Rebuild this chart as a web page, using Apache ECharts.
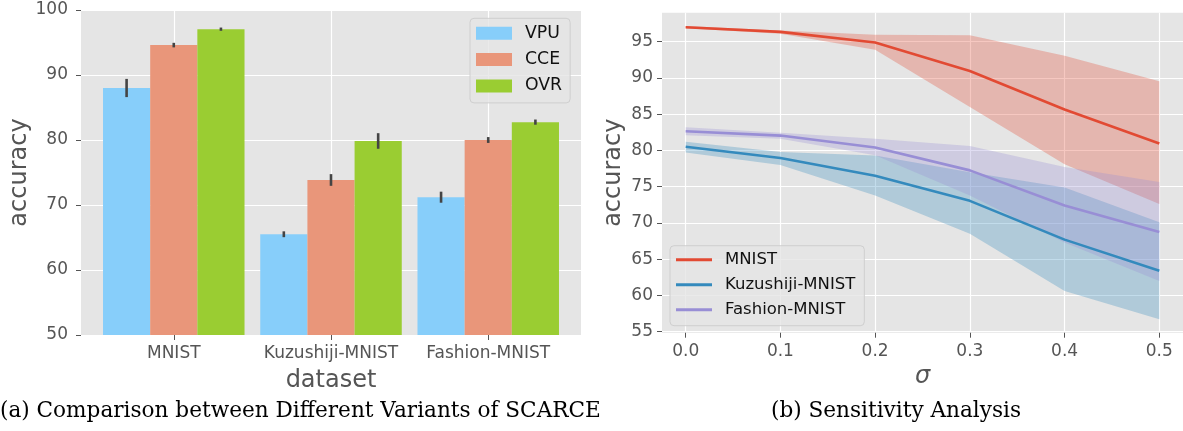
<!DOCTYPE html>
<html>
<head>
<meta charset="utf-8">
<script src="https://cdn.jsdelivr.net/npm/echarts@6/dist/echarts.min.js"></script>
<style>
  html, body { margin: 0; padding: 0; background: #fff; }
  #chart { width: 1183px; height: 431px; }
</style>
</head>
<body>
<div id="chart"></div>
<script>
// (a) variants of SCARCE, mean accuracy and error bar half-length
const datasets = ['MNIST', 'Kuzushiji-MNIST', 'Fashion-MNIST'];
const vpuMean = [88.0, 65.5, 71.2];
const vpuErr = [1.4, 0.45, 0.85];
const cceMean = [94.6, 73.85, 80.0];
const cceErr = [0.35, 0.9, 0.45];
const ovrMean = [97.05, 79.85, 82.75];
const ovrErr = [0.25, 1.2, 0.4];

// (b) sensitivity analysis
const sigma = [0.0, 0.1, 0.2, 0.3, 0.4, 0.5];
const mnistAcc = [97.0, 96.35, 94.9, 90.95, 85.65, 80.95];
const mnistLow = [96.85, 96.1, 93.9, 86.0, 78.1, 72.6];
const mnistHigh = [97.15, 96.55, 95.95, 95.9, 93.05, 89.55];
const kmnistAcc = [80.5, 78.95, 76.5, 73.05, 67.7, 63.4];
const kmnistLow = [79.7, 78.0, 73.8, 68.5, 60.6, 56.7];
const kmnistHigh = [81.2, 79.8, 79.3, 77.0, 74.9, 70.1];
const fmnistAcc = [82.65, 82.05, 80.4, 77.25, 72.4, 68.75];
const fmnistLow = [82.1, 81.6, 79.35, 73.8, 67.3, 62.0];
const fmnistHigh = [83.2, 82.45, 81.6, 80.6, 77.7, 75.65];
const yTicksB = [55, 60, 65, 70, 75, 80, 85, 90, 95];
const xTicksB = [0, 0.1, 0.2, 0.3, 0.4, 0.5];

const tickColor = '#555';
const barW = 0.3;

// bar + error bar, drawn with the axis scales
function barItem(offset) {
  return function (params, api) {
    const x = api.value(0) + offset;
    const v = api.value(1), e = api.value(2);
    const w = api.size([barW, 0])[0];
    const top = api.coord([x, v]);
    const base = api.coord([x, 50]);
    const hi = api.coord([x, v + e]);
    const lo = api.coord([x, v - e]);
    return {
      type: 'group',
      children: [
        { type: 'rect', shape: { x: top[0] - w / 2, y: top[1], width: w, height: base[1] - top[1] },
          style: { fill: api.visual('color') } },
        { type: 'line', shape: { x1: hi[0], y1: hi[1], x2: lo[0], y2: lo[1] },
          style: { stroke: '#444', lineWidth: 2.6 } }
      ]
    };
  };
}

// shaded band between low and high
function bandItem(low, high, color) {
  return function (params, api) {
    const pts = [];
    sigma.forEach((s, i) => pts.push(api.coord([s, high[i]])));
    for (let i = sigma.length - 1; i >= 0; i--) pts.push(api.coord([sigma[i], low[i]]));
    return { type: 'polygon', shape: { points: pts }, style: { fill: color, opacity: 0.3 } };
  };
}

function barSeries(name, mean, err, offset, color) {
  return {
    name: name, type: 'custom', xAxisIndex: 0, yAxisIndex: 0,
    itemStyle: { color: color },
    renderItem: barItem(offset),
    data: datasets.map((d, i) => [i, mean[i], err[i]])
  };
}

function bandSeries(low, high, color) {
  return {
    type: 'custom', xAxisIndex: 1, yAxisIndex: 1, clip: true, silent: true,
    renderItem: bandItem(low, high, color),
    data: [[0]]
  };
}

function lineSeries(name, acc, color) {
  return {
    name: name, type: 'line', xAxisIndex: 1, yAxisIndex: 1,
    showSymbol: false, symbol: 'none',
    lineStyle: { width: 2.6, color: color },
    itemStyle: { color: color },
    data: sigma.map((s, i) => [s, acc[i]])
  };
}

const axisCommon = {
  axisLine: { show: false, onZero: false },
  axisTick: { show: true, length: 5, lineStyle: { color: tickColor, width: 1 } },
  splitLine: { show: true, lineStyle: { color: '#fff', width: 1.2 } },
  nameLocation: 'middle',
  nameTextStyle: { color: tickColor, fontSize: 24, fontFamily: 'DejaVu Sans' }
};

const legendCommon = {
  orient: 'vertical',
  backgroundColor: 'rgba(229,229,229,0.8)',
  borderColor: 'rgba(204,204,204,0.9)',
  borderWidth: 1,
  borderRadius: 4,
  itemWidth: 36,
  textStyle: { color: '#111', fontFamily: 'DejaVu Sans', lineHeight: 20, padding: [0, 0, 0, 8] }
};

const option = {
  animation: false,
  backgroundColor: '#fff',
  textStyle: { fontFamily: 'DejaVu Sans' },
  grid: [
    { left: 81, top: 10, width: 500, height: 325, show: true, backgroundColor: '#E5E5E5', borderWidth: 0 },
    { left: 662, top: 12.7, width: 522.5, height: 320, show: true, backgroundColor: '#E5E5E5', borderWidth: 0 }
  ],
  xAxis: [
    Object.assign({}, axisCommon, {
      type: 'value', gridIndex: 0, min: -0.59, max: 2.59,
      axisTick: Object.assign({}, axisCommon.axisTick, { customValues: [0, 1, 2] }),
      axisLabel: { customValues: [0, 1, 2], formatter: v => datasets[Math.round(v)],
        color: tickColor, fontSize: 17, margin: 10 },
      name: 'dataset', nameGap: 34
    }),
    Object.assign({}, axisCommon, {
      type: 'value', gridIndex: 1, min: -0.025, max: 0.525,
      axisTick: Object.assign({}, axisCommon.axisTick, { customValues: xTicksB }),
      axisLabel: { customValues: xTicksB, formatter: v => v.toFixed(1),
        color: tickColor, fontSize: 17, margin: 10 },
      name: 'σ', nameGap: 27,
      nameTextStyle: { color: tickColor, fontSize: 24, fontStyle: 'italic', fontFamily: 'DejaVu Sans' }
    })
  ],
  yAxis: [
    Object.assign({}, axisCommon, {
      type: 'value', gridIndex: 0, min: 50, max: 100, interval: 10,
      axisLabel: { color: tickColor, fontSize: 17, margin: 13 },
      name: 'accuracy', nameGap: 48
    }),
    Object.assign({}, axisCommon, {
      type: 'value', gridIndex: 1, min: 54.86, max: 99.0,
      axisTick: Object.assign({}, axisCommon.axisTick, { customValues: yTicksB }),
      axisLabel: { customValues: yTicksB, color: tickColor, fontSize: 17, margin: 9 },
      name: 'accuracy', nameGap: 36
    })
  ],
  legend: [
    Object.assign({}, legendCommon, {
      data: ['VPU', 'CCE', 'OVR'],
      left: 470, top: 18.3,
      padding: [5, 8, 7, 6],
      itemHeight: 13, itemGap: 6.3,
      icon: 'rect',
      textStyle: Object.assign({}, legendCommon.textStyle, { fontSize: 17.3 })
    }),
    Object.assign({}, legendCommon, {
      data: ['MNIST', 'Kuzushiji-MNIST', 'Fashion-MNIST'],
      left: 670, top: 245.7,
      padding: [4, 9, 6, 6],
      itemHeight: 3, itemGap: 5,
      icon: 'rect',
      textStyle: Object.assign({}, legendCommon.textStyle, { fontSize: 16.5 })
    })
  ],
  series: [
    barSeries('VPU', vpuMean, vpuErr, -barW, '#87CEFA'),
    barSeries('CCE', cceMean, cceErr, 0, '#E9967A'),
    barSeries('OVR', ovrMean, ovrErr, barW, '#9ACD32'),
    bandSeries(mnistLow, mnistHigh, '#E24A33'),
    bandSeries(kmnistLow, kmnistHigh, '#348ABD'),
    bandSeries(fmnistLow, fmnistHigh, '#988ED5'),
    lineSeries('MNIST', mnistAcc, '#E24A33'),
    lineSeries('Kuzushiji-MNIST', kmnistAcc, '#348ABD'),
    lineSeries('Fashion-MNIST', fmnistAcc, '#988ED5')
  ],
  graphic: [
    { type: 'text', x: 0, y: 411,
      style: { text: '(a) Comparison between Different Variants of SCARCE', font: '21.6px "DejaVu Serif"',
        fill: '#000', verticalAlign: 'middle' } },
    { type: 'text', x: 896, y: 411,
      style: { text: '(b) Sensitivity Analysis', font: '21.6px "DejaVu Serif"',
        fill: '#000', align: 'center', verticalAlign: 'middle' } }
  ]
};

const chart = echarts.init(document.getElementById('chart'));
chart.setOption(option);
</script>
</body>
</html>
